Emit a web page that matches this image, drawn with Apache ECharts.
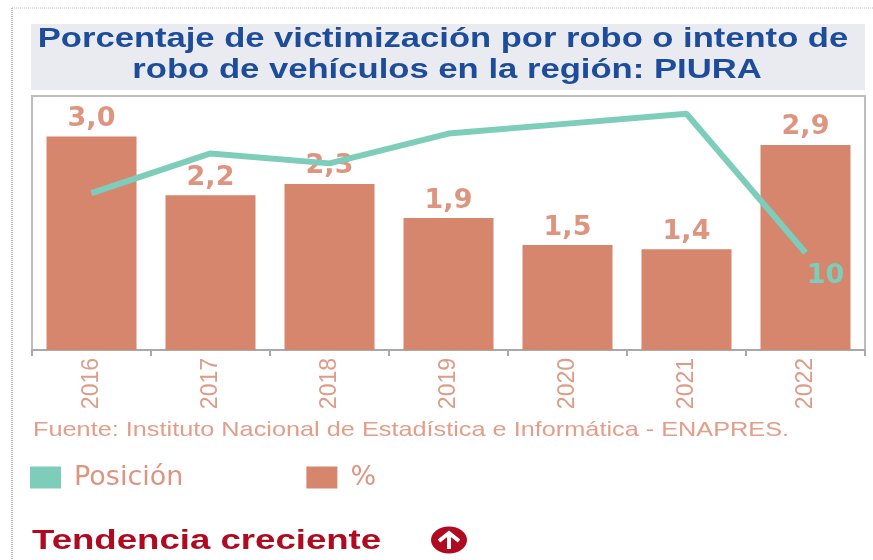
<!DOCTYPE html>
<html><head><meta charset="utf-8">
<style>html,body{margin:0;padding:0;background:#fff}#c{width:873px;height:560px}</style>
<script src="https://cdn.jsdelivr.net/npm/echarts@6/dist/echarts.min.js"></script>
</head><body><div id="c"></div>
<script>
const categories = ['2016','2017','2018','2019','2020','2021','2022'];
const porcentaje = [3.01,2.18,2.34,1.86,1.48,1.42,2.89];
const posicion = [7,5,5.5,4,3.5,3,10];
const posicionLabels = ['','','','','','','10'];
const titulo = ['Porcentaje de victimización por robo o intento de','robo de vehículos en la región: PIURA'];
const fuente = 'Fuente: Instituto Nacional de Estadística e Informática - ENAPRES.';
const tendencia = 'Tendencia creciente';

const sans = '"Liberation Sans", Arial, sans-serif';
const txt = '#DD9580';
const chart = echarts.init(document.getElementById('c'), null, {renderer:'canvas'});
function stretched(text,x,y,sx,font,color,align){
  return {type:'text',x:x,y:y,scaleX:sx,scaleY:1,silent:true,
    style:{text:text,font:font,fill:color,textAlign:align||'left',textVerticalAlign:'middle'}};
}
chart.setOption({
  animation:false,
  backgroundColor:'#fff',
  grid:{left:32,top:96,width:833,height:254,show:true,backgroundColor:'transparent',borderColor:'#BDBDBD',borderWidth:2,containLabel:false},
  xAxis:{type:'category',data:categories,
    axisLine:{lineStyle:{color:'#A9A9A9',width:2}},
    axisTick:{show:true,length:6,lineStyle:{color:'#A9A9A9',width:2}},
    axisLabel:{rotate:90,margin:8,color:'#DE9C87',fontSize:23,fontFamily:sans}},
  yAxis:[
    {type:'value',min:0,max:3.58,show:false},
    {type:'value',min:2.11,max:14.89,inverse:true,show:false}
  ],
  legend:{left:30,top:464,padding:0,itemWidth:31,itemHeight:22,itemGap:123,icon:'rect',
    data:['Posición','%'],selectedMode:false,
    textStyle:{color:txt,fontSize:27,fontFamily:'"DejaVu Sans",sans-serif',padding:[0,0,0,8]}},
  series:[
    {name:'%',type:'bar',yAxisIndex:0,data:porcentaje,barWidth:90,
      itemStyle:{color:'#D5866D'},
      label:{show:true,position:'top',distance:4,color:'#DD9580',fontSize:27,fontWeight:'bold',fontFamily:'"DejaVu Sans",sans-serif',
        formatter:p=>p.value.toFixed(1).replace('.',',')}},
    {name:'Posición',type:'line',yAxisIndex:1,data:posicion,symbol:'circle',symbolSize:1,z:5,
      lineStyle:{color:'#7DCDBA',width:6},itemStyle:{color:'#7DCDBA'},
      label:{show:true,position:'bottom',distance:9,offset:[20,0],color:'#7DCDBA',fontSize:27,fontWeight:'bold',fontFamily:'"DejaVu Sans",sans-serif',
        formatter:p=>posicionLabels[p.dataIndex]}}
  ],
  graphic:[
    {type:'line',silent:true,shape:{x1:12,y1:8,x2:873,y2:8},style:{stroke:'#BBBBBB',lineWidth:1,lineDash:[1,1]}},
    {type:'line',silent:true,shape:{x1:12,y1:8,x2:12,y2:560},style:{stroke:'#BBBBBB',lineWidth:2,lineDash:[1,1]}},
    {type:'rect',silent:true,z:-1,shape:{x:31,y:24,width:834,height:66},style:{fill:'#E9EBF0'}},
    stretched(titulo[0],443,40,1.28,'bold 27px '+sans,'#1D4C9A','center'),
    stretched(titulo[1],447,71,1.283,'bold 27px '+sans,'#1D4C9A','center'),
    stretched(fuente,33,430,1.204,'21px '+sans,'#E39E89'),
    stretched(tendencia,32,541,1.307,'bold 28px '+sans,'#B00A20'),
    {type:'ellipse',silent:true,shape:{cx:449,cy:540,rx:18,ry:13.5},style:{fill:'#B00A20'}},
    {type:'polyline',silent:true,shape:{points:[[439,541],[449,533],[459,541]]},style:{stroke:'#fff',lineWidth:4,fill:null}},
    {type:'line',silent:true,shape:{x1:449,y1:534,x2:449,y2:549},style:{stroke:'#fff',lineWidth:4}}
  ]
});
</script></body></html>
